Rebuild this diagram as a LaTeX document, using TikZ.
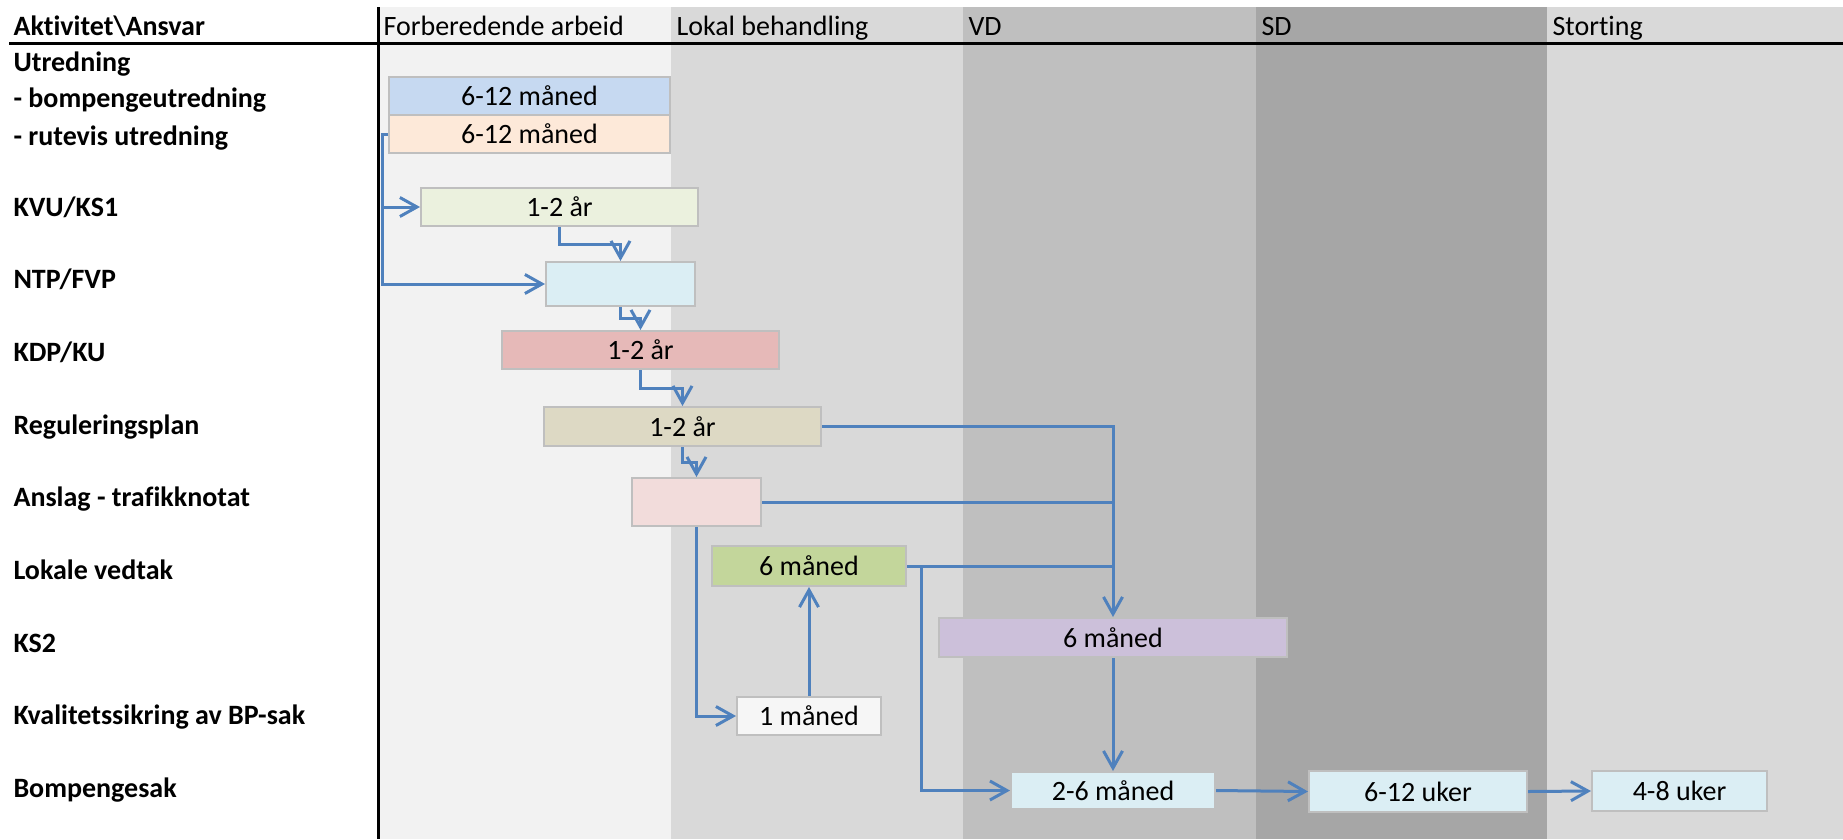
\documentclass[tikz,border=0pt]{standalone}
\usepackage{fontspec}
\setmainfont{Carlito}[Ligatures=NoCommon]
\usetikzlibrary{arrows.meta,calc,positioning}

\definecolor{lineblue}{RGB}{79,129,189}
\definecolor{boxgray}{RGB}{191,191,191}
\definecolor{colfor}{RGB}{242,242,242}
\definecolor{collok}{RGB}{217,217,217}
\definecolor{colvd}{RGB}{191,191,191}
\definecolor{colsd}{RGB}{166,166,166}
\definecolor{colsto}{RGB}{217,217,217}

\tikzset{
  box/.style={draw=boxgray, line width=2pt, inner sep=0pt, minimum height=38pt},
  conn/.style={draw=lineblue, line width=3pt, ->},
  rowlab/.style={anchor=base west, font=\fontsize{28}{33}\selectfont\bfseries},
  colhead/.style={anchor=base west}
}

\begin{document}
\begin{tikzpicture}[x=1pt, y=-1pt, >={Straight Barb[length=17pt,width=19pt]},
  font=\fontsize{28}{33}\selectfont]
  \useasboundingbox (0,0) rectangle (1843,839);

  % Columns (responsibility)
  \foreach \xa/\xb/\c/\t [count=\i] in {378/671/colfor/Forberedende arbeid,
      671/963/collok/Lokal behandling, 963/1256/colvd/VD,
      1256/1547/colsd/SD, 1547/1843/colsto/Storting} {
    \fill[\c] (\xa,7) rectangle (\xb,839);
    \node[colhead] (h\i) at (\xa+2,35) {\t};
  }
  \node[rowlab] (h0) at (10,35) {Aktivitet\textbackslash Ansvar};

  % Table rules
  \draw[line width=3pt] (9,43) -- (1843,43);
  \draw[line width=3pt] (378,7) -- (378,839);

  % Activities
  \foreach \y/\t [count=\i] in {71/Utredning, 107/- bompengeutredning,
      145/- rutevis utredning, 216/KVU\slash KS1, 288/NTP\slash FVP,
      361/KDP\slash KU, 434/Reguleringsplan, 506/Anslag - trafikknotat,
      579/Lokale vedtak, 652/KS2, 724/Kvalitetssikring av BP-sak,
      797/Bompengesak} {
    \node[rowlab] (r\i) at (10,\y) {\t};
  }

  % Duration boxes
  \node[box, fill={rgb,255:red,198;green,217;blue,241}, minimum width=281pt] (bomp) at (529.5,96) {6-12 måned};
  \node[box, fill={rgb,255:red,253;green,233;blue,217}, minimum width=281pt] (rute) at (529.5,134) {6-12 måned};
  \node[box, fill={rgb,255:red,235;green,241;blue,222}, minimum width=277pt] (kvu) at (559.5,207) {1-2 år};
  \node[box, fill={rgb,255:red,219;green,238;blue,244}, minimum width=149pt, minimum height=44pt] (ntp) at (620.5,284) {};
  \node[box, fill={rgb,255:red,230;green,185;blue,184}, minimum width=277pt] (kdp) at (640.5,350) {1-2 år};
  \node[box, fill={rgb,255:red,221;green,217;blue,196}, minimum width=277pt, minimum height=39pt] (reg) at (682.5,426.5) {1-2 år};
  \node[box, fill={rgb,255:red,242;green,220;blue,219}, minimum width=129pt, minimum height=48pt] (ansl) at (696.5,502) {};
  \node[box, fill={rgb,255:red,195;green,214;blue,155}, minimum width=194pt, minimum height=40pt] (lok) at (809,566) {6 måned};
  \node[box, fill={rgb,255:red,204;green,192;blue,218}, minimum width=348pt, minimum height=39pt] (ks2) at (1113,637.5) {6 måned};
  \node[box, fill={rgb,255:red,246;green,246;blue,246}, minimum width=144pt] (kval) at (809,716) {1 måned};
  \node[box, fill={rgb,255:red,219;green,238;blue,244}, minimum width=204pt, minimum height=37pt] (tos) at (1113,790.5) {2-6 måned};
  \node[box, fill={rgb,255:red,219;green,238;blue,244}, minimum width=218pt, minimum height=41pt] (seks) at (1418,791.5) {6-12 uker};
  \node[box, fill={rgb,255:red,219;green,238;blue,244}, minimum width=175pt, minimum height=40pt] (fire) at (1679.5,791) {4-8 uker};

  % Connectors
  \draw[conn] (rute.west) -- ++(-6,0) |- (kvu.west);
  \draw[conn] (rute.west) -- ++(-6,0) |- (ntp.west);
  \draw[conn] (kvu.south) |- ($(kvu.south)!.5!(ntp.north)$) -| (ntp.north);
  \draw[conn] (ntp.south) |- ($(ntp.south)!.5!(kdp.north)$) -| (kdp.north);
  \draw[conn] (kdp.south) |- ($(kdp.south)!.5!(reg.north)$) -| (reg.north);
  \draw[conn] (reg.south) |- ($(reg.south)!.5!(ansl.north)$) -| (ansl.north);

  \draw[conn] (reg.east) -| (ks2.north);
  \draw[conn, -] (ansl.east) -- (ansl.east -| ks2.north);
  \draw[conn, -] (lok.east) -- (lok.east -| ks2.north);
  \coordinate (split) at ($(lok.east)+(14,0)$);
  \draw[conn] (split) |- (tos.west);
  \draw[conn] (ansl.south) |- (kval.west);
  \draw[conn] (kval.north) -- (lok.south);
  \draw[conn] (ks2.south) -- (tos.north);
  \draw[conn] (tos.east) -- (seks.west);
  \draw[conn] (seks.east) -- (fire.west);
\end{tikzpicture}
\end{document}
